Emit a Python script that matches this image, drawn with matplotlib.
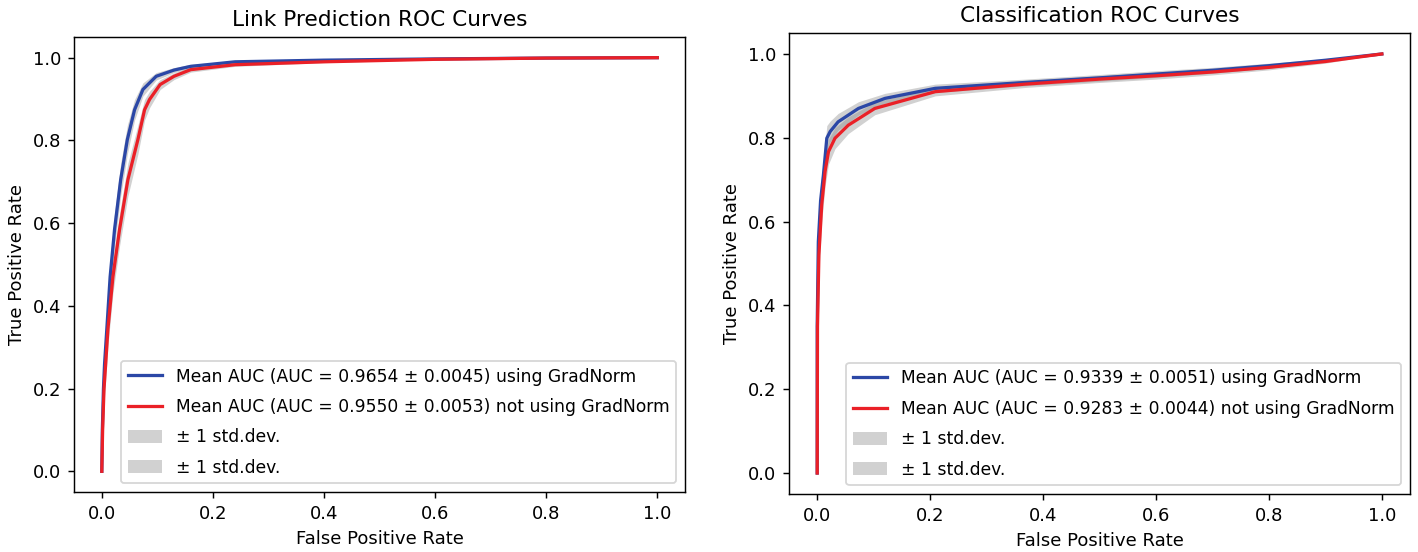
import matplotlib
matplotlib.use("Agg")
import matplotlib.pyplot as plt
import numpy as np

# ---- Link prediction (left) ----
lp_fpr_gn = [0, 0.001, 0.003, 0.005, 0.009, 0.015, 0.023, 0.034, 0.046, 0.059, 0.074, 0.098, 0.13, 0.16, 0.24, 0.4, 0.6, 0.8, 1.0]
lp_tpr_gn = [0, 0.10, 0.20, 0.26, 0.343, 0.47, 0.585, 0.705, 0.802, 0.874, 0.923, 0.955, 0.970, 0.979, 0.990, 0.994, 0.997, 0.999, 1.0]
lp_std_gn = [0, 0.02, 0.035, 0.04, 0.04, 0.04, 0.04, 0.04, 0.035, 0.025, 0.016, 0.009, 0.006, 0.005, 0.003, 0.002, 0.001, 0.0005, 0]

lp_fpr_no = [0, 0.0015, 0.004, 0.007, 0.011, 0.02, 0.032, 0.047, 0.065, 0.077, 0.086, 0.105, 0.13, 0.16, 0.24, 0.4, 0.6, 0.8, 1.0]
lp_tpr_no = [0, 0.10, 0.20, 0.26, 0.343, 0.47, 0.585, 0.705, 0.802, 0.874, 0.899, 0.935, 0.955, 0.971, 0.983, 0.990, 0.996, 0.999, 1.0]
lp_std_no = [0, 0.02, 0.035, 0.04, 0.04, 0.04, 0.04, 0.04, 0.035, 0.025, 0.02, 0.012, 0.008, 0.006, 0.004, 0.002, 0.001, 0.0005, 0]

# ---- Classification (right) ----
cl_fpr_gn = [0, 0.0, 0.002, 0.006, 0.011, 0.017, 0.023, 0.037, 0.073, 0.12, 0.209, 0.368, 0.5, 0.6, 0.7, 0.8, 0.9, 1.0]
cl_tpr_gn = [0, 0.35, 0.552, 0.65, 0.711, 0.799, 0.815, 0.838, 0.870, 0.894, 0.918, 0.932, 0.943, 0.952, 0.961, 0.972, 0.985, 1.0]
cl_std_gn = [0, 0.03, 0.04, 0.04, 0.035, 0.03, 0.025, 0.02, 0.016, 0.012, 0.01, 0.008, 0.008, 0.008, 0.007, 0.006, 0.004, 0]

cl_fpr_no = [0, 0.0005, 0.003, 0.008, 0.014, 0.020, 0.0315, 0.055, 0.102, 0.209, 0.368, 0.5, 0.6, 0.7, 0.8, 0.9, 1.0]
cl_tpr_no = [0, 0.35, 0.52, 0.64, 0.72, 0.767, 0.799, 0.830, 0.870, 0.910, 0.928, 0.940, 0.948, 0.957, 0.968, 0.982, 1.0]
cl_std_no = [0, 0.03, 0.04, 0.04, 0.035, 0.03, 0.025, 0.02, 0.015, 0.01, 0.008, 0.008, 0.008, 0.007, 0.006, 0.004, 0]

titles = ["Link Prediction ROC Curves", "Classification ROC Curves"]
labels_left = ["Mean AUC (AUC = 0.9654 \u00b1 0.0045) using GradNorm",
               "Mean AUC (AUC = 0.9550 \u00b1 0.0053) not using GradNorm"]
labels_right = ["Mean AUC (AUC = 0.9339 \u00b1 0.0051) using GradNorm",
                "Mean AUC (AUC = 0.9283 \u00b1 0.0044) not using GradNorm"]
std_label = "\u00b1 1 std.dev."

BLUE = "#2b47a6"
RED = "#ea2027"

fig = plt.figure(figsize=(1418 / 130, 552 / 130), dpi=130)
ax1 = fig.add_axes([0.0522, 0.1087, 0.4309, 0.8243])
ax2 = fig.add_axes([0.5564, 0.1051, 0.4380, 0.8351])


def draw(ax, f1, t1, s1, f2, t2, s2, labs, title):
    f1, t1, s1 = map(np.array, (f1, t1, s1))
    f2, t2, s2 = map(np.array, (f2, t2, s2))
    p1 = ax.fill_between(f1, np.clip(t1 - s1, 0, 1), np.clip(t1 + s1, 0, 1),
                         color="grey", alpha=0.36, lw=0)
    p2 = ax.fill_between(f2, np.clip(t2 - s2, 0, 1), np.clip(t2 + s2, 0, 1),
                         color="grey", alpha=0.36, lw=0)
    l1, = ax.plot(f1, t1, color=BLUE, lw=1.8)
    l2, = ax.plot(f2, t2, color=RED, lw=1.8)
    ax.legend([l1, l2, p1, p2], [labs[0], labs[1], std_label, std_label],
              loc="lower right", fontsize=9.5, labelspacing=0.72,
              handleheight=0.8)
    ax.set_xlim(-0.05, 1.05)
    ax.set_ylim(-0.05, 1.05)
    ax.set_xlabel("False Positive Rate")
    ax.set_ylabel("True Positive Rate")
    ax.set_title(title)


draw(ax1, lp_fpr_gn, lp_tpr_gn, lp_std_gn, lp_fpr_no, lp_tpr_no, lp_std_no, labels_left, titles[0])
draw(ax2, cl_fpr_gn, cl_tpr_gn, cl_std_gn, cl_fpr_no, cl_tpr_no, cl_std_no, labels_right, titles[1])

fig.savefig("out.png", dpi=130)
